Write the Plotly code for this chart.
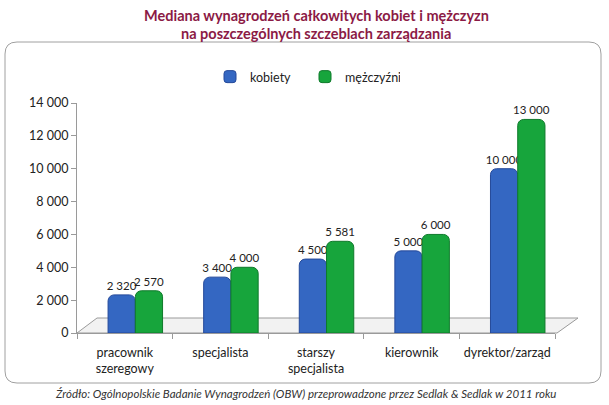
import plotly.graph_objects as go

# data
categories = ["pracownik<br>szeregowy", "specjalista", "starszy<br>specjalista",
              "kierownik", "dyrektor/zarząd"]
kobiety = [2320, 3400, 4500, 5000, 10000]
mezczyzni = [2570, 4000, 5581, 6000, 13000]
y_ticks = [0, 2000, 4000, 6000, 8000, 10000, 12000, 14000]

title_lines = ["Mediana wynagrodzeń całkowitych kobiet i mężczyzn",
               "na poszczególnych szczeblach zarządzania"]
source = "Źródło: Ogólnopolskie Badanie Wynagrodzeń (OBW) przeprowadzone przez Sedlak &amp; Sedlak w 2011 roku"

FONT = "Lato, 'Open Sans', sans-serif"
BLUE = "#3467c2"
GREEN = "#17a53c"

W, H = 609, 405
pl, pr, pt, pb = 77, 54, 103, 72
pw, ph = W - pl - pr, H - pt - pb


def px(x):
    # pixel x -> paper coordinate
    return (x - pl) / pw


def py(y):
    # pixel y (from top) -> paper coordinate
    return (H - y - pb) / ph


fig = go.Figure()
# bars sit a little right of the category centre (3D depth in the original)
fig.add_trace(go.Bar(
    name="kobiety", x=categories, y=kobiety, width=0.285, offset=-0.175,
    marker=dict(color=BLUE, line=dict(color="#24499a", width=1), cornerradius=6),
    texttemplate="%{y:,.0f}", textposition="outside", constraintext="none",
    textfont=dict(size=11.5, color="#222222"), cliponaxis=False,
))
fig.add_trace(go.Bar(
    name="mężczyźni", x=categories, y=mezczyzni, width=0.285, offset=0.11,
    marker=dict(color=GREEN, line=dict(color="#0f7a2b", width=1), cornerradius=6),
    texttemplate="%{y:,.0f}", textposition="outside", constraintext="none",
    textfont=dict(size=11.5, color="#222222"), cliponaxis=False,
))

# rounded frame around the chart body (pixel box converted to paper coords)
fl, fr, ft, fb, rr = 5, 601, 42, 383, 12
frame = (f"M {px(fl + rr)},{py(ft)} L {px(fr - rr)},{py(ft)} "
         f"Q {px(fr)},{py(ft)} {px(fr)},{py(ft + rr)} "
         f"L {px(fr)},{py(fb - rr)} Q {px(fr)},{py(fb)} {px(fr - rr)},{py(fb)} "
         f"L {px(fl + rr)},{py(fb)} Q {px(fl)},{py(fb)} {px(fl)},{py(fb - rr)} "
         f"L {px(fl)},{py(ft + rr)} Q {px(fl)},{py(ft)} {px(fl + rr)},{py(ft)} Z")

# flat 3D floor under the bars
floor = (f"M {px(77)},{py(333)} L {px(97)},{py(318)} L {px(578)},{py(318)} "
         f"L {px(557)},{py(333)} Z")

title_font = dict(family=FONT, size=14.5, color="#8b1a45", weight="bold")
annotations = [
    dict(text=title_lines[0], x=0.5, xref="paper", y=py(15), yref="paper",
         xanchor="center", yanchor="middle", showarrow=False, font=title_font),
    dict(text=title_lines[1], x=0.5, xref="paper", y=py(33), yref="paper",
         xanchor="center", yanchor="middle", showarrow=False, font=title_font),
    dict(text=source, x=px(305), xref="paper", y=py(393), yref="paper",
         xanchor="center", yanchor="middle", showarrow=False,
         font=dict(family=FONT, size=11.5, color="#333333", style="italic")),
]

fig.update_layout(
    width=W, height=H,
    paper_bgcolor="white", plot_bgcolor="rgba(0,0,0,0)",
    separators=", ",
    font=dict(family=FONT, size=12.5, color="#222222"),
    barmode="group",
    margin=dict(l=pl, r=pr, t=pt, b=pb, autoexpand=False),
    legend=dict(
        orientation="h", x=px(305), xanchor="center", y=py(77), yref="paper",
        yanchor="middle", font=dict(size=12.5, color="#222222"),
        traceorder="normal", entrywidth=50, itemwidth=30,
    ),
    xaxis=dict(
        showline=True, linecolor="#9a9a9a", linewidth=1,
        ticks="outside", tickson="boundaries", ticklen=5, tickcolor="#9a9a9a",
        showgrid=False, tickfont=dict(size=12.5), ticklabelstandoff=8,
        tickangle=0,
    ),
    yaxis=dict(
        range=[0, 14000], tickvals=y_ticks, tickformat=",.0f",
        showline=True, linecolor="#9a9a9a", linewidth=1,
        ticks="outside", ticklen=5, tickcolor="#9a9a9a",
        showgrid=False, zeroline=False, tickfont=dict(size=12.5),
    ),
    shapes=[
        dict(type="path", path=frame, xref="paper", yref="paper",
             line=dict(color="#a0a0a0", width=1), layer="below"),
        dict(type="path", path=floor, xref="paper", yref="paper",
             fillcolor="#f2f2f2", line=dict(color="#9a9a9a", width=1), layer="below"),
    ],
    annotations=annotations,
)

# the page body has a default 8px margin; drop it so the figure fills the window
fig.write_html("out.html", config={"displayModeBar": False},
               post_script="document.body.style.margin='0';")
